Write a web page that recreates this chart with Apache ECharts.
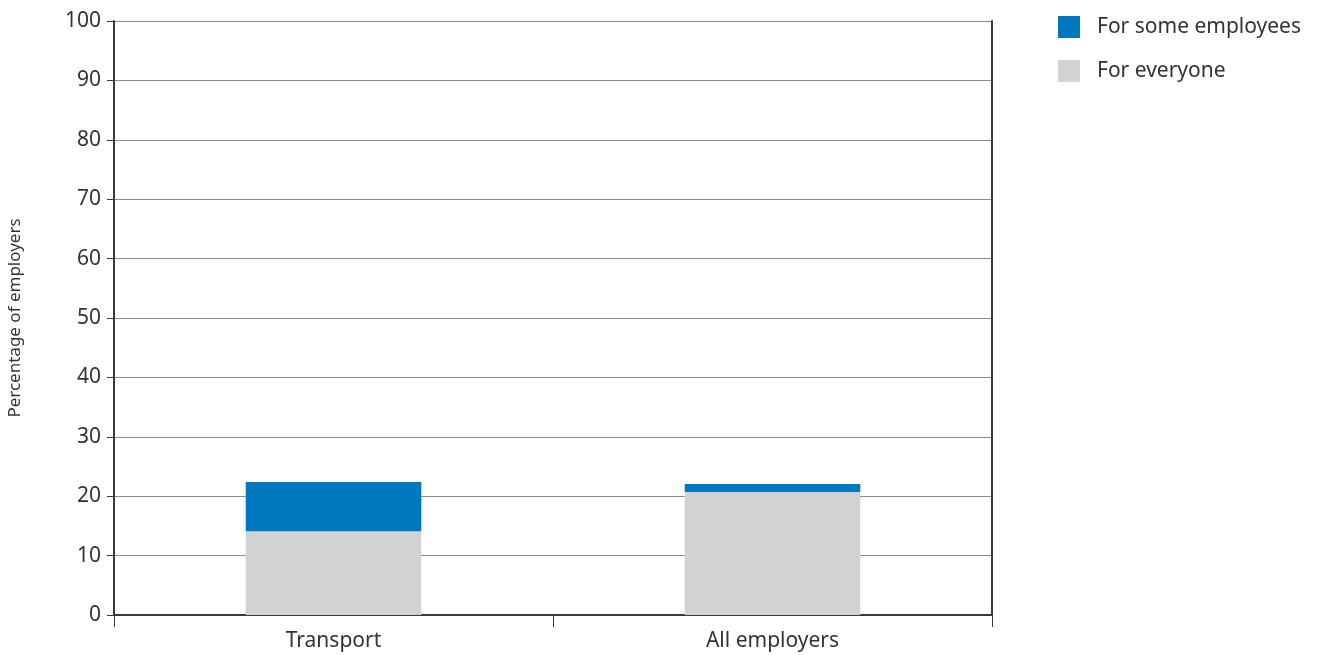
<!DOCTYPE html>
<html>
<head>
<meta charset="utf-8">
<script src="https://cdn.jsdelivr.net/npm/echarts@6/dist/echarts.min.js"></script>
<style>html,body{margin:0;padding:0;background:#fff}#c{width:1328px;height:655px}</style>
</head>
<body>
<div id="c"></div>
<script>
const categories = ['Transport', 'All employers'];
const forEveryone = [14.1, 20.7];
const forSome = [8.3, 1.35];
const yTicks = [0, 10, 20, 30, 40, 50, 60, 70, 80, 90, 100];

const font = '"Noto Sans", "DejaVu Sans", sans-serif';
const chart = echarts.init(document.getElementById('c'), null, {renderer: 'canvas'});
chart.setOption({
  animation: false,
  textStyle: {fontFamily: font},
  grid: {left: 114, right: 336, top: 21, bottom: 40, containLabel: false, outerBoundsMode: 'none'},
  legend: {
    left: 1053, top: 11, orient: 'vertical', itemWidth: 22, itemHeight: 22, itemGap: 22,
    icon: 'rect',
    textStyle: {fontSize: 21, color: '#333', fontFamily: font, padding: [0, 0, 0, 12]},
    data: ['For some employees', 'For everyone']
  },
  xAxis: {
    type: 'category', data: categories,
    axisLine: {lineStyle: {color: '#3a3a3a', width: 2}},
    axisTick: {show: true, length: 12, lineStyle: {color: '#3a3a3a', width: 1}},
    axisLabel: {fontSize: 21, color: '#333', margin: 16}
  },
  yAxis: [{
    type: 'value', min: 0, max: 100, interval: 10,
    name: 'Percentage of employers', nameLocation: 'middle', nameGap: 90, nameRotate: 90,
    nameTextStyle: {fontSize: 17, color: '#333'},
    axisLine: {show: true, lineStyle: {color: '#3a3a3a', width: 2}},
    axisTick: {show: true, length: 7, lineStyle: {color: '#3a3a3a'}},
    axisLabel: {fontSize: 21, color: '#333', margin: 13,
      formatter: v => yTicks.indexOf(v) >= 0 ? String(v) : ''},
    splitLine: {show: true, lineStyle: {color: '#8a8a8a', width: 1}}
  }, {
    type: 'value', min: 0, max: 100, interval: 10, position: 'right',
    axisLine: {show: true, lineStyle: {color: '#3a3a3a', width: 2}},
    axisTick: {show: false}, axisLabel: {show: false}, splitLine: {show: false}
  }],
  series: [
    {name: 'For everyone', type: 'bar', stack: 'a', data: forEveryone, barWidth: '40%',
     itemStyle: {color: '#D1D2D4'}},
    {name: 'For some employees', type: 'bar', stack: 'a', data: forSome, barWidth: '40%',
     itemStyle: {color: '#0077BE'}}
  ]
});
</script>
</body>
</html>
